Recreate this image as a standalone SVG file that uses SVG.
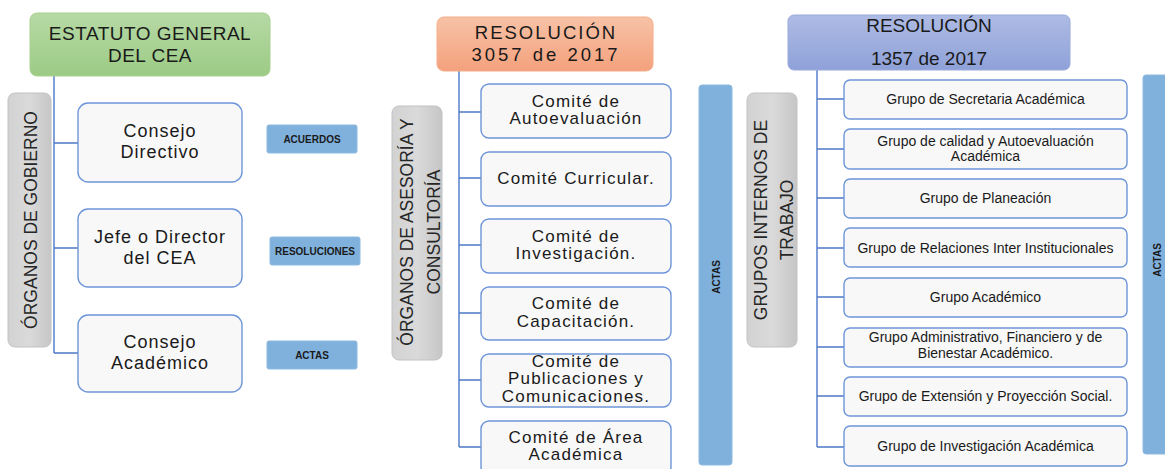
<svg xmlns="http://www.w3.org/2000/svg" width="1165" height="469" viewBox="0 0 1165 469">
<defs>
<linearGradient id="gGreen" x1="0" y1="0" x2="0" y2="1"><stop offset="0" stop-color="#b6d9a5"/><stop offset="1" stop-color="#9ccb85"/></linearGradient>
<linearGradient id="gOrange" x1="0" y1="0" x2="0" y2="1"><stop offset="0" stop-color="#f7c2a6"/><stop offset="1" stop-color="#f4a17d"/></linearGradient>
<linearGradient id="gBlue" x1="0" y1="0" x2="0" y2="1"><stop offset="0" stop-color="#aebbe4"/><stop offset="1" stop-color="#8ea1d8"/></linearGradient>
<linearGradient id="gGray" x1="0" y1="0" x2="1" y2="0"><stop offset="0" stop-color="#d2d2d2"/><stop offset="0.5" stop-color="#dadada"/><stop offset="1" stop-color="#c6c6c6"/></linearGradient>
</defs>
<style>
.hdr{stroke-width:1}
.hg{fill:url(#gGreen);stroke:#a9d18e}
.ho{fill:url(#gOrange);stroke:#f4ad8a}
.hb{fill:url(#gBlue);stroke:#9aaadc}
.gray{fill:url(#gGray);stroke:#c2c2c2;stroke-width:1}
.box{fill:#f8f8f8;stroke:#6d95d8;stroke-width:1.4}
.lbl{fill:#80b1dd;stroke:#8db9e0;stroke-width:1}
.conn{fill:none;stroke:#4d78c8;stroke-width:1.4}
text{font-family:"Liberation Sans",Arial,sans-serif;fill:#1a1a1a;text-anchor:middle}
.th{font-size:19px;letter-spacing:0.5px}
.thm1{font-size:18.5px;letter-spacing:2px}
.thm2{font-size:18.5px;letter-spacing:3px}
.thr{font-size:19px}
.tv{font-size:17.5px;fill:#262626}
.tl{font-size:18px;letter-spacing:1px}
.tm{font-size:17px;letter-spacing:1.2px}
.tr{font-size:14px}
.tb{font-size:10px;font-weight:bold}
</style>

<g id="connectors">
<path class="conn" d="M54,76 V353 M54,143 H78 M54,248 H78 M54,353 H78"/>
<path class="conn" d="M459,71 V447 M459,112 H481 M459,178 H481 M459,245 H481 M459,313 H481 M459,380 H481 M459,447 H481"/>
<path class="conn" d="M817,70 V447 M817,99 H844 M817,149 H844 M817,198 H844 M817,248 H844 M817,297 H844 M817,347 H844 M817,396 H844 M817,447 H844"/>
</g>

<!-- Column 1 -->
<g id="estatuto">
<rect class="hdr hg" x="30" y="13" width="240" height="63" rx="7"/>
<text class="th" x="150" y="40">ESTATUTO GENERAL</text>
<text class="th" x="150" y="62">DEL CEA</text>
</g>
<g id="organos-gobierno">
<rect class="gray" x="8" y="93" width="43" height="254" rx="7"/>
<text class="tv" transform="translate(37,220) rotate(-90)">ÓRGANOS DE GOBIERNO</text>
</g>
<g id="consejo-directivo">
<rect class="box" x="78" y="103" width="164" height="79" rx="10"/>
<text class="tl" x="160" y="137">Consejo</text>
<text class="tl" x="160" y="158">Directivo</text>
</g>
<g id="jefe-director">
<rect class="box" x="78" y="209" width="164" height="78" rx="10"/>
<text class="tl" x="160" y="243">Jefe o Director</text>
<text class="tl" x="160" y="264">del CEA</text>
</g>
<g id="consejo-academico">
<rect class="box" x="78" y="315" width="164" height="77" rx="10"/>
<text class="tl" x="160" y="348">Consejo</text>
<text class="tl" x="160" y="369">Académico</text>
</g>
<g id="acuerdos">
<rect class="lbl" x="267" y="125" width="90" height="28" rx="2"/>
<text class="tb" x="312" y="143">ACUERDOS</text>
</g>
<g id="resoluciones">
<rect class="lbl" x="270" y="237" width="90" height="28" rx="2"/>
<text class="tb" x="315" y="255">RESOLUCIONES</text>
</g>
<g id="actas-1">
<rect class="lbl" x="267" y="341" width="90" height="28" rx="2"/>
<text class="tb" x="312" y="359">ACTAS</text>
</g>

<!-- Column 2 -->
<g id="resolucion-3057">
<rect class="hdr ho" x="437" y="17" width="216" height="54" rx="7"/>
<text class="thm1" x="546" y="39">RESOLUCIÓN</text>
<text class="thm2" x="546" y="61">3057 de 2017</text>
</g>
<g id="organos-asesoria">
<rect class="gray" x="392" y="106" width="50" height="254" rx="7"/>
<text class="tv" transform="translate(413,232) rotate(-90)">ÓRGANOS DE ASESORÍA Y</text>
<text class="tv" transform="translate(440,232) rotate(-90)">CONSULTORÍA</text>
</g>
<g id="comite-autoevaluacion">
<rect class="box" x="481" y="84" width="190" height="54" rx="8"/>
<text class="tm" x="576" y="107">Comité de</text>
<text class="tm" x="576" y="124">Autoevaluación</text>
</g>
<g id="comite-curricular">
<rect class="box" x="481" y="152" width="190" height="54" rx="8"/>
<text class="tm" x="576" y="184">Comité Curricular.</text>
</g>
<g id="comite-investigacion">
<rect class="box" x="481" y="219" width="190" height="54" rx="8"/>
<text class="tm" x="576" y="242">Comité de</text>
<text class="tm" x="576" y="259">Investigación.</text>
</g>
<g id="comite-capacitacion">
<rect class="box" x="481" y="287" width="190" height="53" rx="8"/>
<text class="tm" x="576" y="309">Comité de</text>
<text class="tm" x="576" y="327">Capacitación.</text>
</g>
<g id="comite-publicaciones">
<rect class="box" x="481" y="354" width="190" height="53" rx="8"/>
<text class="tm" x="576" y="367">Comité de</text>
<text class="tm" x="576" y="384">Publicaciones y</text>
<text class="tm" x="576" y="402">Comunicaciones.</text>
</g>
<g id="comite-area">
<rect class="box" x="481" y="421" width="190" height="54" rx="8"/>
<text class="tm" x="576" y="443">Comité de Área</text>
<text class="tm" x="576" y="460">Académica</text>
</g>
<g id="actas-2">
<rect class="lbl" x="699" y="85" width="33" height="380" rx="3"/>
<text class="tb" transform="translate(720,277) rotate(-90)">ACTAS</text>
</g>

<!-- Column 3 -->
<g id="resolucion-1357">
<rect class="hdr hb" x="788" y="15" width="282" height="55" rx="6"/>
<text class="thr" x="929" y="32">RESOLUCIÓN</text>
<text class="thr" x="929" y="65">1357 de 2017</text>
</g>
<g id="grupos-internos">
<rect class="gray" x="747" y="93" width="50" height="254" rx="7"/>
<text class="tv" transform="translate(767,220) rotate(-90)">GRUPOS INTERNOS DE</text>
<text class="tv" transform="translate(793,220) rotate(-90)">TRABAJO</text>
</g>
<g id="grupo-secretaria">
<rect class="box" x="844" y="80" width="283" height="39" rx="6"/>
<text class="tr" x="985.5" y="104">Grupo de Secretaria Académica</text>
</g>
<g id="grupo-calidad">
<rect class="box" x="844" y="129" width="283" height="40" rx="6"/>
<text class="tr" x="985.5" y="146">Grupo de calidad y Autoevaluación</text>
<text class="tr" x="985.5" y="161">Académica</text>
</g>
<g id="grupo-planeacion">
<rect class="box" x="844" y="179" width="283" height="39" rx="6"/>
<text class="tr" x="985.5" y="203">Grupo de Planeación</text>
</g>
<g id="grupo-relaciones">
<rect class="box" x="844" y="228" width="283" height="39" rx="6"/>
<text class="tr" x="985.5" y="252.5">Grupo de Relaciones Inter Institucionales</text>
</g>
<g id="grupo-academico">
<rect class="box" x="844" y="278" width="283" height="39" rx="6"/>
<text class="tr" x="985.5" y="302">Grupo Académico</text>
</g>
<g id="grupo-administrativo">
<rect class="box" x="844" y="328" width="283" height="39" rx="6"/>
<text class="tr" x="985.5" y="342">Grupo Administrativo, Financiero y de</text>
<text class="tr" x="985.5" y="358">Bienestar Académico.</text>
</g>
<g id="grupo-extension">
<rect class="box" x="844" y="377" width="283" height="39" rx="6"/>
<text class="tr" x="985.5" y="401">Grupo de Extensión y Proyección Social.</text>
</g>
<g id="grupo-investigacion">
<rect class="box" x="844" y="426" width="283" height="40" rx="6"/>
<text class="tr" x="985.5" y="451">Grupo de Investigación Académica</text>
</g>
<g id="actas-3">
<rect class="lbl" x="1143" y="75" width="33" height="379" rx="3"/>
<text class="tb" transform="translate(1161,260) rotate(-90)">ACTAS</text>
</g>
</svg>
